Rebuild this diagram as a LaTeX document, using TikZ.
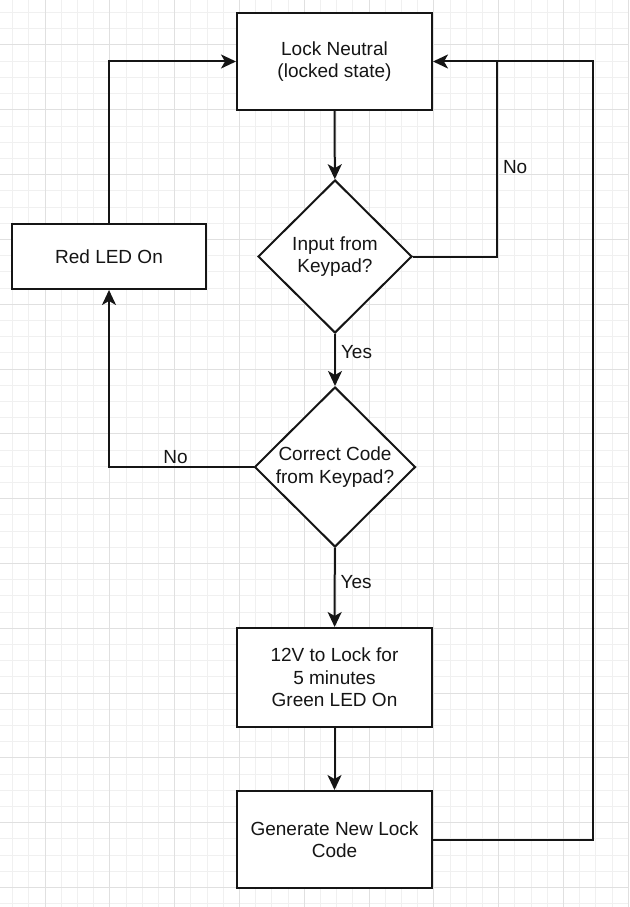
\documentclass[tikz,border=0pt]{standalone}
\usepackage{fontspec}
\setsansfont{Liberation Sans}
\usetikzlibrary{shapes.geometric,arrows.meta}

\definecolor{gridminor}{HTML}{F0F0F0}
\definecolor{gridmajor}{HTML}{E0E0E0}
\definecolor{ink}{HTML}{151515}

\begin{document}
\begin{tikzpicture}[x=1pt, y=-1pt, line width=2pt,
  font=\sffamily\fontsize{19}{22.5}\selectfont,
  box/.style={draw=ink, fill=white, text=ink, align=center, inner sep=0pt,
              minimum width=195pt, minimum height=97pt},
  decision/.style={diamond, draw=ink, fill=white, text=ink, align=center,
                   inner sep=0pt, aspect=1},
  flow/.style={draw=ink, -{Stealth[length=15pt,width=14pt,inset=4pt]}},
  lbl/.style={text=ink, inner sep=5pt}]

  \useasboundingbox (0,0) rectangle (629,907);

  % ---------- background grid ----------
  \begin{scope}[line width=1pt]
    \clip (0,0) rectangle (629,907);
    \foreach \k in {-3,...,36} \draw[gridminor] ({45+16.2*\k},0) -- ++(0,907);
    \foreach \k in {-3,...,53} \draw[gridminor] (0,{45+16.2*\k}) -- ++(629,0);
    \foreach \k in {-1,...,9}  \draw[gridmajor] ({45+64.8*\k},0) -- ++(0,907);
    \foreach \k in {-1,...,13} \draw[gridmajor] (0,{45+64.8*\k}) -- ++(629,0);
  \end{scope}

  % ---------- blocks ----------
  \node[box] (lock) at (334.5,61.5) {Lock Neutral\\(locked state)};
  \node[decision, minimum width=154pt, minimum height=153pt] (input) at (335,256.5)
       {Input from\\Keypad?};
  \node[box, minimum width=194pt, minimum height=65pt] (red) at (109,256.5) {Red LED On};
  \node[decision, minimum width=161pt, minimum height=160pt] (check) at (335,467)
       {Correct Code\\from Keypad?};
  \node[box, minimum height=99pt] (unlock) at (334.5,677.5)
       {12V to Lock for\\5 minutes\\Green LED On};
  \node[box] (gen) at (334.5,839.5) {Generate New Lock\\Code};

  % ---------- return points ----------
  \coordinate (noback) at (497,61.5);
  \coordinate (loopback) at (593,61.5);

  % ---------- main path ----------
  \draw[flow] (lock) -- (input);
  \draw[flow] (input) -- node[lbl, right, pos=0.35] {Yes} (check);
  \draw[flow] (check) -- node[lbl, right, pos=0.43] {Yes} (unlock);
  \draw[flow] (unlock) -- (gen);

  % ---------- loops ----------
  \draw[draw=ink] (input.east) -| node[lbl, right, pos=0.73] {No} (noback);
  \draw[flow] (gen.east) -| (loopback) -- (lock.east);
  \draw[flow] (check.west) -| node[lbl, above, pos=0.27, inner sep=2pt] {No} (red.south);
  \draw[flow] (red.north) |- (lock.west);

\end{tikzpicture}
\end{document}
